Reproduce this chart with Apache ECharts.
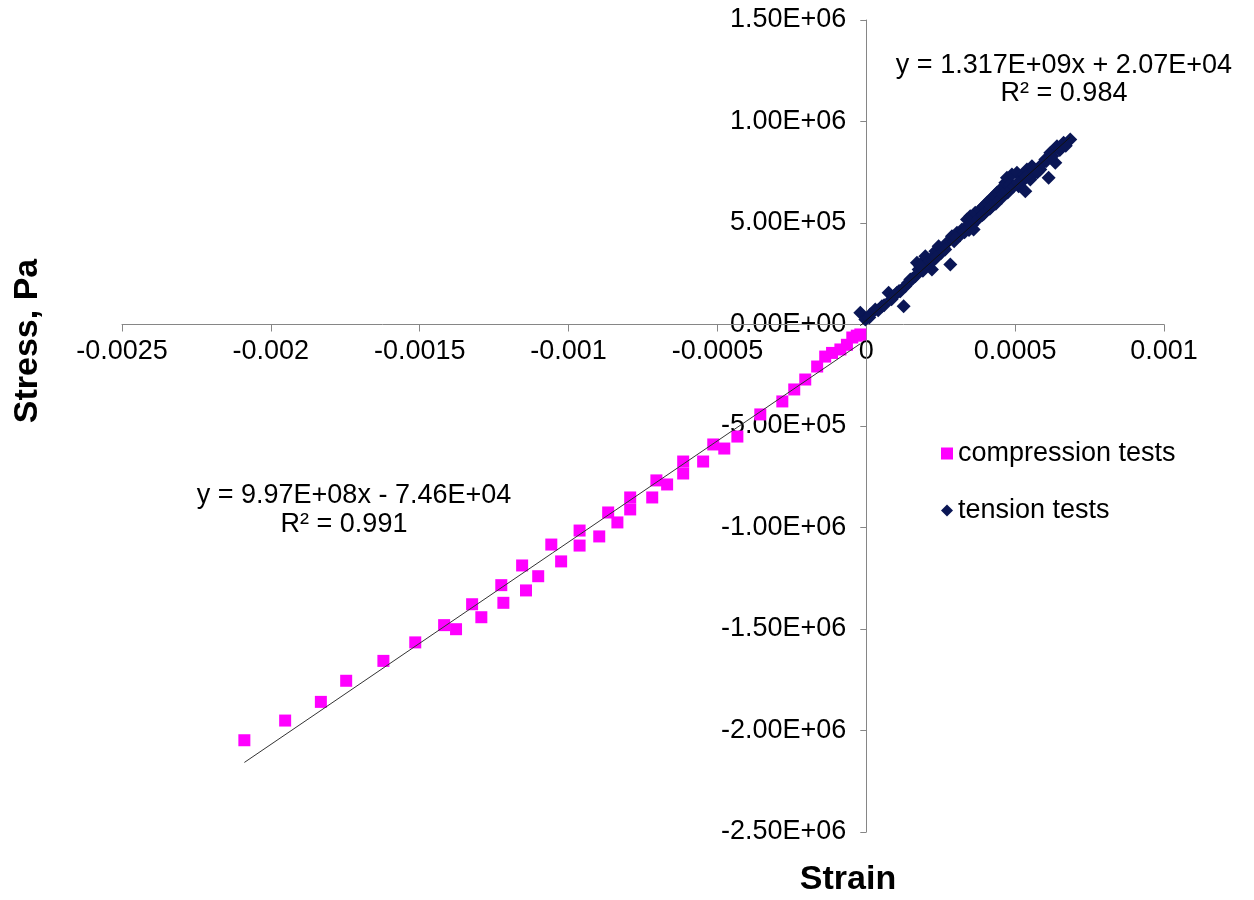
<!DOCTYPE html>
<html>
<head>
<meta charset="utf-8">
<script src="https://cdn.jsdelivr.net/npm/echarts@6/dist/echarts.min.js"></script>
<style>
html,body{margin:0;padding:0;background:#fff;}
#chart{width:1254px;height:900px;}
</style>
</head>
<body>
<div id="chart"></div>
<script>
// ---- data ----
const compressionX = [-0.002089,-0.001952,-0.001832,-0.001747,-0.001622,-0.001515,-0.001418,-0.001378,-0.001324,-0.001293,-0.001226,-0.001219,-0.001156,-0.001143,-0.001102,-0.001058,-0.001025,-0.000963,-0.000963,-0.000897,-0.000867,-0.000836,-0.000793,-0.000793,-0.000719,-0.000705,-0.000669,-0.000615,-0.000615,-0.000548,-0.000514,-0.000477,-0.000433,-0.000356,-0.000282,-0.000242,-0.000205,-0.000165,-0.000138,-0.000115,-0.000087,-0.000065,-0.000047,-0.000032,-0.000020];
const compressionY = [-2048000,-1951000,-1859000,-1755000,-1657000,-1566000,-1481000,-1501000,-1378000,-1442000,-1284000,-1371000,-1187000,-1310000,-1240000,-1084000,-1167000,-1015000,-1089000,-1044000,-926000,-975000,-852000,-911000,-852000,-768000,-788000,-675000,-734000,-675000,-591000,-611000,-552000,-443000,-379000,-320000,-271000,-207000,-158000,-140000,-123000,-100000,-64000,-55000,-49000];

const tensionX = [-0.000020,-0.000003,0.0000134,0.0000302,0.0000526,0.0000750,0.0000918,0.0001142,0.0001254,0.0001310,0.0001478,0.0001646,0.0001758,0.0001870,0.0001982,0.0002150,0.0002206,0.0002318,0.0002430,0.0002598,0.0002822,0.0002710,0.0002878,0.0003046,0.0003214,0.0003382,0.0003382,0.0003493,0.0003605,0.0003661,0.0003829,0.0003941,0.0004053,0.0004165,0.0004277,0.0004389,0.0004501,0.0004669,0.0004725,0.0004837,0.0004893,0.0005061,0.0005117,0.0005229,0.0005341,0.0005397,0.0005509,0.0005565,0.0005677,0.0005845,0.0006013,0.0006124,0.0006181,0.0006349,0.0006405,0.0006628,0.0006852,0.0001030,0.0001702,
  0.000010,0.000040,0.000060,0.000085,0.000110,0.000140,0.000155,0.000190,0.000205,0.000225,0.000250,0.000265,0.000295,0.000315,0.000330,0.000355,0.000375,0.000395,0.000415,0.000435,0.000455,0.000475,0.000495,0.000520,0.000545,0.000565,0.000590,0.000605,0.000625,0.000650,0.000670,
  0.000180,0.000235,0.000300,0.000345,0.000390,0.000420,0.000460,0.000510,0.000535,0.000575];
const tensionY = [57600,24600,49300,73900,90300,156000,139500,164200,90300,188800,221700,238100,270900,303800,336600,320200,270900,361200,385900,377700,295600,402300,435100,451500,468000,517200,484400,533600,468000,550100,566500,582900,599300,615800,632200,648600,665000,697900,722500,689600,738900,747100,681400,730600,656800,763500,714300,780000,747100,763500,812800,722500,845600,796400,878400,894800,911300,156000,303800,
  35000,70000,95000,125000,165000,205000,225000,265000,300000,315000,350000,370000,410000,440000,455000,490000,520000,545000,570000,595000,625000,650000,680000,700000,735000,760000,790000,805000,830000,860000,880000,
  290000,330000,425000,465000,540000,580000,640000,700000,725000,750000];

// trendline equations as printed on the chart
const compSlope = 9.97e8, compIntercept = -7.46e4;
const tensSlope = 1.317e9, tensIntercept = 2.07e4;
const compRange = [-0.002089, -0.000020];
const tensRange = [-0.000020, 0.0006852];

// axis ticks and tick labels
const xTickValues = [-0.0025, -0.002, -0.0015, -0.001, -0.0005, 0, 0.0005, 0.001];
const xTickLabels = ['-0.0025', '-0.002', '-0.0015', '-0.001', '-0.0005', '0', '0.0005', '0.001'];
const yTickValues = [1.5e6, 1.0e6, 5.0e5, 0, -5.0e5, -1.0e6, -1.5e6, -2.0e6, -2.5e6];
const yTickLabels = ['1.50E+06', '1.00E+06', '5.00E+05', '0.00E+00', '-5.00E+05', '-1.00E+06', '-1.50E+06', '-2.00E+06', '-2.50E+06'];

const compEqText = ['y = 9.97E+08x - 7.46E+04', 'R² = 0.991'];
const tensEqText = ['y = 1.317E+09x + 2.07E+04', 'R² = 0.984'];
const seriesNames = ['compression tests', 'tension tests'];
const xTitle = 'Strain', yTitle = 'Stress, Pa';

// ---- chart ----
const FONT = 'Arial, "Liberation Sans", sans-serif';
const compPts = compressionX.map((x, i) => [x, compressionY[i]]);
const tensPts = tensionX.map((x, i) => [x, tensionY[i]]);
const compLine = compRange.map(x => [x, compSlope * x + compIntercept]);
const tensLine = tensRange.map(x => [x, tensSlope * x + tensIntercept]);

const chart = echarts.init(document.getElementById('chart'), null, { renderer: 'canvas' });
chart.setOption({
  backgroundColor: '#ffffff',
  animation: false,
  textStyle: { fontFamily: FONT },
  grid: { left: 122, right: 90, top: 20, bottom: 68, containLabel: false, outerBoundsMode: 'none' },
  xAxis: {
    type: 'value', min: xTickValues[0], max: xTickValues[xTickValues.length - 1],
    interval: xTickValues[1] - xTickValues[0],
    axisLine: { onZero: true, lineStyle: { color: '#868686', width: 1 } },
    axisTick: { show: true, length: 7, lineStyle: { color: '#868686' } },
    splitLine: { show: false },
    axisLabel: { show: false }
  },
  yAxis: {
    type: 'value', min: yTickValues[yTickValues.length - 1], max: yTickValues[0],
    interval: yTickValues[0] - yTickValues[1],
    axisLine: { onZero: true, lineStyle: { color: '#868686', width: 1 } },
    axisTick: { show: true, length: 6, lineStyle: { color: '#868686' } },
    splitLine: { show: false },
    axisLabel: { show: false }
  },
  legend: {
    orient: 'vertical', left: 936, top: 435, itemGap: 30, itemWidth: 12, itemHeight: 12,
    textStyle: { fontSize: 27, color: '#000', fontFamily: FONT },
    data: [{ name: seriesNames[0], icon: 'rect' }, { name: seriesNames[1], icon: 'diamond' }]
  },
  series: [
    { name: seriesNames[0], type: 'scatter', data: compPts, symbol: 'rect', symbolSize: 12,
      itemStyle: { color: '#ff00ff', opacity: 1 }, z: 2 },
    { name: seriesNames[1], type: 'scatter', data: tensPts, symbol: 'diamond', symbolSize: 14,
      itemStyle: { color: '#0a1655', opacity: 1 }, z: 2 },
    { name: 'compTrend', type: 'line', data: compLine, showSymbol: false, symbol: 'none',
      lineStyle: { color: '#333', width: 1 }, z: 3, silent: true },
    { name: 'tensTrend', type: 'line', data: tensLine, showSymbol: false, symbol: 'none',
      lineStyle: { color: '#111', width: 1 }, z: 3, silent: true }
  ]
});

// tick labels placed at the library's own pixel positions of the ticks
const origin = chart.convertToPixel({ gridIndex: 0 }, [0, 0]);
const txt = (x, y, text, font, align, extra) => Object.assign({
  type: 'text', x: x, y: y, silent: true,
  style: { text: text, font: font, fill: '#000', textAlign: align, textVerticalAlign: 'middle' }
}, extra || {});
const graphics = [];
xTickValues.forEach((v, i) => {
  const p = chart.convertToPixel({ gridIndex: 0 }, [v, 0]);
  graphics.push(txt(p[0], origin[1] + 27, xTickLabels[i], '27px ' + FONT, 'center'));
});
yTickValues.forEach((v, i) => {
  const p = chart.convertToPixel({ gridIndex: 0 }, [0, v]);
  graphics.push(txt(origin[0] - 20, p[1], yTickLabels[i], '27px ' + FONT, 'right'));
});
graphics.push(txt(1064, 66, tensEqText[0], '27px ' + FONT, 'center'));
graphics.push(txt(1064, 94, tensEqText[1], '27px ' + FONT, 'center'));
graphics.push(txt(354, 496, compEqText[0], '27px ' + FONT, 'center'));
graphics.push(txt(344, 525, compEqText[1], '27px ' + FONT, 'center'));
graphics.push(txt(848, 880, xTitle, 'bold 34px ' + FONT, 'center'));
graphics.push(txt(28, 341, yTitle, 'bold 34px ' + FONT, 'center', { rotation: Math.PI / 2 }));
chart.setOption({ graphic: graphics });
</script>
</body>
</html>
